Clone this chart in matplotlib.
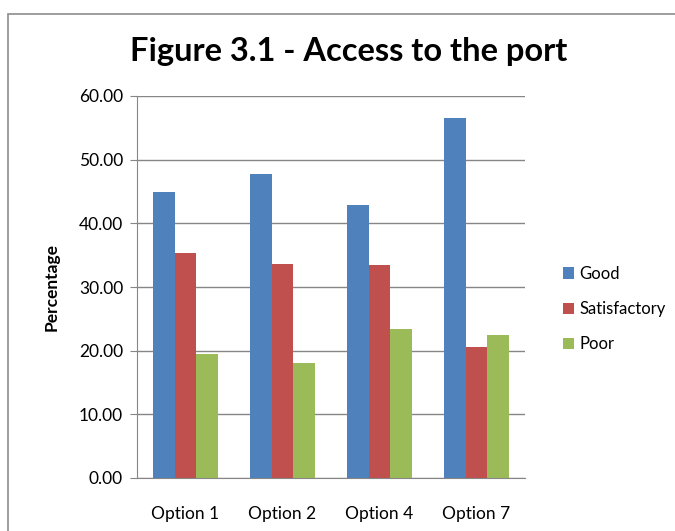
import matplotlib.pyplot as plt
import numpy as np
from matplotlib.patches import Rectangle

plt.rcParams['font.family'] = ['Lato', 'DejaVu Sans']

options = ['Option 1', 'Option 2', 'Option 4', 'Option 7']
good = [45.0, 47.8, 42.9, 56.6]
satisfactory = [35.4, 33.6, 33.5, 20.6]
poor = [19.5, 18.1, 23.4, 22.5]

colors = ['#4F81BD', '#C0504D', '#9BBB59']

fig = plt.figure(figsize=(6.75, 5.31), dpi=100)
# chart frame
fig.patches.append(Rectangle((8 / 675, -0.1), 1.2, 1 - 14 / 531 + 0.1,
                             transform=fig.transFigure, fill=False,
                             edgecolor='#8c8c8c', linewidth=1.2))

ax = fig.add_axes([137 / 675, 1 - 478 / 531, 388 / 675, 382 / 531])

x = np.arange(len(options))
w = 0.225
ax.bar(x - w, good, w, color=colors[0], label='Good')
ax.bar(x, satisfactory, w, color=colors[1], label='Satisfactory')
ax.bar(x + w, poor, w, color=colors[2], label='Poor')

ax.set_xlim(-0.5, 3.5)
ax.set_ylim(0, 60)
ax.set_yticks(np.arange(0, 61, 10))
ax.set_yticklabels([f'{v:.2f}' for v in np.arange(0, 61, 10)], fontsize=12.5)
ax.set_xticks(x)
ax.set_xticklabels(options, fontsize=12.5)
ax.tick_params(axis='x', length=0, pad=20)
ax.tick_params(axis='y', length=5, color='#868686', pad=5)

ax.yaxis.grid(True, color='#868686', linewidth=1)
ax.set_axisbelow(True)
for s in ['top', 'right']:
    ax.spines[s].set_visible(False)
for s in ['left', 'bottom']:
    ax.spines[s].set_color('#868686')

ax.set_ylabel('Percentage', fontsize=12.5, fontweight='bold', labelpad=14)

fig.text(349 / 675, 1 - 52 / 531, 'Figure 3.1 - Access to the port',
         ha='center', va='center', fontsize=23.5, fontweight='bold')

ax.legend(loc='center left', bbox_to_anchor=(548 / 675, 1 - 309 / 531),
          bbox_transform=fig.transFigure, frameon=False, fontsize=12,
          handlelength=0.65, handleheight=0.65, handletextpad=0.35,
          labelspacing=1.15)

fig.savefig('out.png', dpi=100)
